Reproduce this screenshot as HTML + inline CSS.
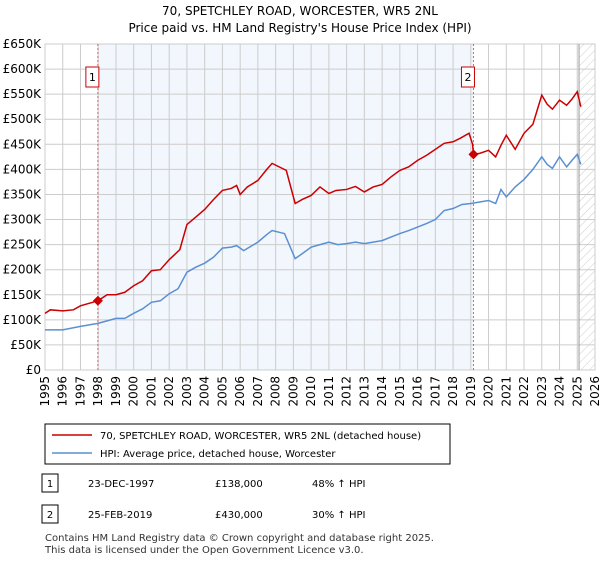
<!DOCTYPE html>
<html><head><meta charset="utf-8"><style>
body{margin:0;background:#fff;font-family:"DejaVu Sans","Liberation Sans",sans-serif;}
</style></head><body>
<svg width="600" height="560" xmlns="http://www.w3.org/2000/svg" font-family="DejaVu Sans, Liberation Sans, sans-serif">
<defs><pattern id="hatch" width="6" height="6" patternUnits="userSpaceOnUse" patternTransform="rotate(45)"><line x1="0" y1="0" x2="0" y2="6" stroke="#ccc" stroke-width="1"/></pattern></defs>
<text x="300" y="15" text-anchor="middle" font-size="12">70, SPETCHLEY ROAD, WORCESTER, WR5 2NL</text>
<text x="300" y="32" text-anchor="middle" font-size="12">Price paid vs. HM Land Registry's House Price Index (HPI)</text>
<g id="plot"></g>
<rect x="45" y="424" width="405" height="40" fill="#fff" stroke="#000" stroke-width="1"/>
<line x1="52" y1="435" x2="92" y2="435" stroke="#cc0000" stroke-width="1.5"/>
<text x="100" y="439" font-size="10">70, SPETCHLEY ROAD, WORCESTER, WR5 2NL (detached house)</text>
<line x1="52" y1="453" x2="92" y2="453" stroke="#5b8fd4" stroke-width="1.5"/>
<text x="100" y="457" font-size="10">HPI: Average price, detached house, Worcester</text>
<rect x="42" y="474" width="16" height="18" fill="#fff" stroke="#000"/>
<text x="50" y="487" text-anchor="middle" font-size="10">1</text>
<text x="88" y="487" font-size="10">23-DEC-1997</text>
<text x="215" y="487" font-size="10">£138,000</text>
<text x="312" y="487" font-size="10">48% ↑ HPI</text>
<rect x="42" y="505" width="16" height="18" fill="#fff" stroke="#000"/>
<text x="50" y="518" text-anchor="middle" font-size="10">2</text>
<text x="88" y="518" font-size="10">25-FEB-2019</text>
<text x="215" y="518" font-size="10">£430,000</text>
<text x="312" y="518" font-size="10">30% ↑ HPI</text>
<text x="45" y="541" font-size="10" fill="#333">Contains HM Land Registry data © Crown copyright and database right 2025.</text>
<text x="45" y="553" font-size="10" fill="#333">This data is licensed under the Open Government Licence v3.0.</text>
</svg>
<script>
const redYears=[1995,1995.3,1996,1996.6,1997,1997.98,1998.5,1999,1999.5,2000,2000.5,2001,2001.5,2002,2002.3,2002.6,2003,2003.5,2004,2004.5,2005,2005.5,2005.8,2006,2006.4,2007,2007.5,2007.8,2008.2,2008.6,2009.1,2009.5,2010,2010.5,2011,2011.4,2012,2012.5,2013,2013.5,2014,2014.5,2015,2015.5,2016,2016.5,2017,2017.5,2018,2018.4,2018.9,2019.1,2019.15,2019.5,2020,2020.4,2020.7,2021,2021.5,2022,2022.5,2023,2023.3,2023.6,2024,2024.4,2024.7,2025,2025.2];
const redValues=[113,120,118,120,128,138,150,150,155,168,178,198,200,220,230,240,290,305,320,340,358,362,368,350,365,378,400,412,405,398,332,340,348,365,352,358,360,366,355,365,370,385,398,405,418,428,440,452,455,462,472,450,430,432,438,425,448,468,440,472,490,548,530,520,538,528,540,555,525];
const blueYears=[1995,1996,1997,1997.98,1998.5,1999,1999.5,2000,2000.5,2001,2001.5,2002,2002.5,2003,2003.5,2004,2004.5,2005,2005.5,2005.8,2006.2,2007,2007.5,2007.8,2008.5,2009.1,2009.5,2010,2010.5,2011,2011.5,2012,2012.5,2013,2013.5,2014,2014.5,2015,2015.5,2016,2016.5,2017,2017.5,2018,2018.5,2019,2019.5,2020,2020.4,2020.7,2021,2021.5,2022,2022.5,2023,2023.3,2023.6,2024,2024.4,2024.7,2025,2025.2];
const blueValues=[80,80,87,93,98,103,103,113,122,135,138,152,162,195,205,213,225,243,245,248,238,255,270,278,272,222,232,245,250,255,250,252,255,252,255,258,265,272,278,285,292,300,318,322,330,332,335,338,332,360,345,365,380,400,425,410,402,425,405,418,430,410];
const yTicks=[0,50,100,150,200,250,300,350,400,450,500,550,600,650];
const xTicks=[1995,1996,1997,1998,1999,2000,2001,2002,2003,2004,2005,2006,2007,2008,2009,2010,2011,2012,2013,2014,2015,2016,2017,2018,2019,2020,2021,2022,2023,2024,2025,2026];
const sales=[[1997.98,138,"1"],[2019.15,430,"2"]];
const L=45,R=595,T=44,B=370;
const X=y=>L+(y-1995)/(2026-1995)*(R-L);
const Y=v=>B-v/650*(B-T);
const ns="http://www.w3.org/2000/svg";
const g=document.getElementById('plot');
function mk(t,a){const e=document.createElementNS(ns,t);for(const k in a)e.setAttribute(k,a[k]);g.appendChild(e);return e;}
let e=mk('rect',{x:X(sales[0][0]),y:T,width:X(sales[1][0])-X(sales[0][0]),height:B-T,fill:'#f2f6fd'});


e=mk('rect',{x:X(2025.1),y:T,width:R-X(2025.1),height:B-T,fill:'url(#hatch)'});


yTicks.forEach(v=>{e=mk('line',{x1:L,x2:R,y1:Y(v),y2:Y(v),stroke:'#ccc'});


e=mk('text',{x:L-4,y:Y(v)+4,'text-anchor':'end','font-size':12});e.textContent=v===0?'£0':'£'+v+'K';

});
xTicks.forEach(v=>{e=mk('line',{x1:X(v),x2:X(v),y1:T,y2:B,stroke:'#ccc'});


e=mk('text',{x:0,y:0,'text-anchor':'end','font-size':12,transform:`translate(${X(v)+4},${B+6}) rotate(-90)`});e.textContent=v;

});
e=mk('rect',{x:L,y:T,width:R-L,height:B-T,fill:'none',stroke:'#ccc'});


e=mk('line',{x1:X(2025.1),x2:X(2025.1),y1:T,y2:B,stroke:'#999'});


sales.forEach(s=>{e=mk('line',{x1:X(s[0]),x2:X(s[0]),y1:T,y2:B,stroke:'#e06060','stroke-dasharray':'2,2'});

});
e=mk('polyline',{points:blueYears.map((y,i)=>X(y)+','+Y(blueValues[i])).join(' '),fill:'none',stroke:'#5b8fd4','stroke-width':1.5});


e=mk('polyline',{points:redYears.map((y,i)=>X(y)+','+Y(redValues[i])).join(' '),fill:'none',stroke:'#cc0000','stroke-width':1.5});


sales.forEach(s=>{const cx=X(s[0]),cy=Y(s[1]);
e=mk('polygon',{points:`${cx},${cy-5} ${cx+5},${cy} ${cx},${cy+5} ${cx-5},${cy}`,fill:'#cc0000'});


e=mk('rect',{x:cx-12,y:67,width:13,height:20,fill:'#fff',stroke:'#cc0000'});


e=mk('text',{x:cx-5.5,y:81,'text-anchor':'middle','font-size':11});e.textContent=s[2];

});
</script>
</body></html>
